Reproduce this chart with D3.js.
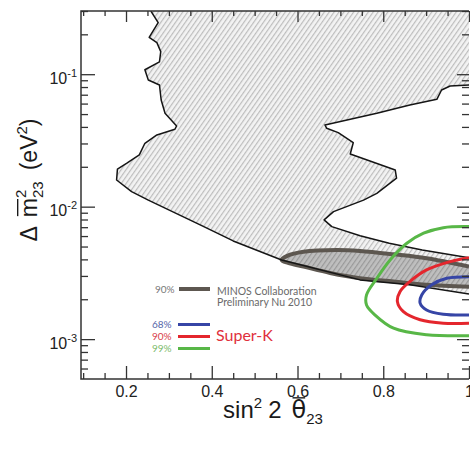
<!DOCTYPE html>
<html>
<head>
<meta charset="utf-8">
<script src="https://cdn.jsdelivr.net/npm/d3@7/dist/d3.min.js"></script>
<style>
  html, body { margin: 0; padding: 0; background: #ffffff; }
  svg { display: block; }
</style>
</head>
<body>
<script>
// ---------------- data ----------------
const xMajorTicks = [0.2, 0.4, 0.6, 0.8, 1.0];
const xTickLabels = ["0.2", "0.4", "0.6", "0.8", "1"];
const xMinorTicks = [0.1, 0.15, 0.25, 0.3, 0.35, 0.45, 0.5, 0.55, 0.65, 0.7, 0.75, 0.85, 0.9, 0.95];
const yMajorTicks = [1e-3, 1e-2, 1e-1];
const yTickExponents = ["-3", "-2", "-1"];
const yMinorTicks = [6e-4, 7e-4, 8e-4, 9e-4,
  2e-3, 3e-3, 4e-3, 5e-3, 6e-3, 7e-3, 8e-3, 9e-3,
  2e-2, 3e-2, 4e-2, 5e-2, 6e-2, 7e-2, 8e-2, 9e-2, 2e-1, 3e-1];

// hatched region boundary [sin^2 2theta, dm^2]
const hatchedLeftEdge = [
  [0.258, 0.300], [0.275, 0.245], [0.254, 0.190], [0.272, 0.173], [0.281, 0.148],
  [0.278, 0.124], [0.244, 0.108], [0.252, 0.0904], [0.278, 0.0829], [0.282, 0.0639],
  [0.291, 0.0507], [0.318, 0.0407], [0.314, 0.0384], [0.272, 0.0348], [0.244, 0.0301],
  [0.231, 0.0246], [0.202, 0.0213], [0.180, 0.0192], [0.178, 0.0159], [0.213, 0.0130],
  [0.252, 0.0112], [0.373, 0.00728], [0.450, 0.00551], [0.563, 0.00396],
  [0.746, 0.00280], [0.862, 0.00257], [1.0, 0.00219]
];
const hatchedRightEdge = [
  [1.0, 0.00412], [0.891, 0.00471], [0.814, 0.00529], [0.746, 0.00604], [0.680, 0.00707],
  [0.662, 0.00794], [0.684, 0.00917], [0.754, 0.0112], [0.785, 0.0126], [0.831, 0.0164],
  [0.828, 0.0189], [0.723, 0.0250], [0.730, 0.0304], [0.695, 0.0362], [0.668, 0.0391],
  [0.664, 0.0414], [0.785, 0.0507], [0.862, 0.0586], [0.925, 0.0646], [0.936, 0.0760],
  [0.956, 0.0815], [1.0, 0.0829]
];
const hatchedTopRight = [1.0, 0.300];

// MINOS 90% contour
const minos90 = [
  [1.0, 0.00353], [0.901, 0.00408], [0.824, 0.00437], [0.746, 0.00463], [0.692, 0.00471],
  [0.614, 0.00457], [0.576, 0.00425], [0.563, 0.00396], [0.578, 0.00376], [0.614, 0.00353],
  [0.676, 0.00316], [0.746, 0.00288], [0.824, 0.00272], [0.901, 0.00257], [1.0, 0.00248]
];

// Super-K contours
const superK99 = [
  [1.0, 0.00707], [0.940, 0.00694], [0.894, 0.00630], [0.855, 0.00529], [0.816, 0.00396],
  [0.785, 0.00288], [0.761, 0.00216], [0.761, 0.00181], [0.781, 0.00152], [0.824, 0.00121],
  [0.901, 0.00108], [1.0, 0.00106]
];
const superK90 = [
  [1.0, 0.00412], [0.956, 0.00385], [0.901, 0.00333], [0.862, 0.00272], [0.839, 0.00228],
  [0.833, 0.00192], [0.847, 0.00161], [0.886, 0.00140], [0.940, 0.00132], [1.0, 0.00132]
];
const superK68 = [
  [1.0, 0.00296], [0.948, 0.00288], [0.913, 0.00257], [0.890, 0.00216], [0.886, 0.00187],
  [0.901, 0.00166], [0.940, 0.00154], [1.0, 0.00152]
];

const superKLevels = ["68%", "90%", "99%"];
const superKColors = ["#3645a6", "#e4262d", "#58b747"];
const superKTextColors = ["#5565a8", "#d8404a", "#7cbb6a"];

// ---------------- layout ----------------
const W = 470, H = 453;
const L = 81, R = 469, T = 11, B = 379;
const FONT = "'Liberation Sans', Arial, Helvetica, sans-serif";
const LFONT = "Lato, 'Open Sans', sans-serif";

const svg = d3.select("body").append("svg").attr("width", W).attr("height", H);

const x = d3.scaleLinear().domain([0.095, 1.0]).range([L, R]);
const y = d3.scaleLog().domain([5e-4, 0.3]).range([B, T]);

const defs = svg.append("defs");
defs.append("clipPath").attr("id", "plotclip")
  .append("rect").attr("x", L).attr("y", T).attr("width", R - L).attr("height", B - T);

const hp = defs.append("pattern").attr("id", "hatch").attr("patternUnits", "userSpaceOnUse")
  .attr("width", 4).attr("height", 4).attr("patternTransform", "rotate(35)");
hp.append("rect").attr("width", 4).attr("height", 4).attr("fill", "#f3f3f3");
hp.append("line").attr("x1", 0.6).attr("y1", 0).attr("x2", 0.6).attr("y2", 4)
  .attr("stroke", "#bdbdbd").attr("stroke-width", 1.2);

const hp2 = defs.append("pattern").attr("id", "hatch2").attr("patternUnits", "userSpaceOnUse")
  .attr("width", 4).attr("height", 4).attr("patternTransform", "rotate(35)");
hp2.append("rect").attr("width", 4).attr("height", 4).attr("fill", "#bfbfbf");
hp2.append("line").attr("x1", 0.6).attr("y1", 0).attr("x2", 0.6).attr("y2", 4)
  .attr("stroke", "#999999").attr("stroke-width", 1.2);

const plot = svg.append("g").attr("clip-path", "url(#plotclip)");

const lin = d3.line().x(d => x(d[0])).y(d => y(d[1]));
const smooth = d3.line().x(d => x(d[0])).y(d => y(d[1])).curve(d3.curveCatmullRom.alpha(0.5));

// hatched region fill
const hatchPoly = hatchedLeftEdge.concat(hatchedRightEdge, [hatchedTopRight]);
plot.append("path").attr("d", lin(hatchPoly) + "Z").attr("fill", "url(#hatch)").attr("stroke", "none");

// MINOS 90% contour fill
plot.append("path").attr("d", smooth(minos90) + "Z").attr("fill", "url(#hatch2)").attr("stroke", "none");
plot.append("path").attr("d", smooth(minos90)).attr("fill", "none")
  .attr("stroke", "#5d5750").attr("stroke-width", 4);

// hatched outline
plot.append("path").attr("d", lin(hatchedLeftEdge)).attr("fill", "none")
  .attr("stroke", "#151515").attr("stroke-width", 1.5).attr("stroke-linejoin", "round");
plot.append("path").attr("d", lin(hatchedRightEdge)).attr("fill", "none")
  .attr("stroke", "#151515").attr("stroke-width", 1.5).attr("stroke-linejoin", "round");

// Super-K contours
[superK68, superK90, superK99].forEach((c, i) => {
  plot.append("path").attr("d", smooth(c)).attr("fill", "none")
    .attr("stroke", superKColors[i]).attr("stroke-width", 3);
});

// ---------------- axes ----------------
const axisColor = "#333333";
function styleAxis(g) {
  g.select(".domain").remove();
  g.selectAll(".tick line").attr("stroke", axisColor).attr("stroke-width", 1.3);
}
svg.append("g").attr("transform", `translate(0,${B})`)
  .call(d3.axisBottom(x).tickValues(xMinorTicks).tickSize(-6).tickFormat(""))
  .call(styleAxis);
const xb = svg.append("g").attr("transform", `translate(0,${B})`)
  .call(d3.axisBottom(x).tickValues(xMajorTicks).tickSize(-13).tickPadding(7)
    .tickFormat((d, i) => xTickLabels[i]))
  .call(styleAxis);
xb.selectAll(".tick text").attr("font-family", FONT).attr("font-size", 16).attr("fill", "#222");

svg.append("g").attr("transform", `translate(0,${T})`)
  .call(d3.axisTop(x).tickValues(xMinorTicks).tickSize(-5).tickFormat(""))
  .call(styleAxis);
svg.append("g").attr("transform", `translate(0,${T})`)
  .call(d3.axisTop(x).tickValues(xMajorTicks).tickSize(-11).tickFormat(""))
  .call(styleAxis);

svg.append("g").attr("transform", `translate(${L},0)`)
  .call(d3.axisLeft(y).tickValues(yMinorTicks).tickSize(-7).tickFormat(""))
  .call(styleAxis);
const yl = svg.append("g").attr("transform", `translate(${L},0)`)
  .call(d3.axisLeft(y).tickValues(yMajorTicks).tickSize(-14).tickFormat(""))
  .call(styleAxis);
yl.selectAll(".tick").each(function(d, i) {
  const t = d3.select(this).append("text")
    .attr("x", -4).attr("y", 9).attr("text-anchor", "end")
    .attr("font-family", FONT).attr("fill", "#222");
  t.append("tspan").attr("font-size", 16).text("10");
  t.append("tspan").attr("font-size", 11).attr("dy", -7).text(yTickExponents[i]);
});

svg.append("g").attr("transform", `translate(${R},0)`)
  .call(d3.axisRight(y).tickValues(yMinorTicks).tickSize(-7).tickFormat(""))
  .call(styleAxis);
svg.append("g").attr("transform", `translate(${R},0)`)
  .call(d3.axisRight(y).tickValues(yMajorTicks).tickSize(-12).tickFormat(""))
  .call(styleAxis);

// frame (left, top, bottom)
svg.append("path").attr("d", `M${R},${T}H${L}V${B}H${R}`)
  .attr("fill", "none").attr("stroke", axisColor).attr("stroke-width", 1.5);

// ---------------- rich-text axis titles ----------------
function richText(g, pieces, family) {
  let cx = 0;
  const tmp = [];
  pieces.forEach(p => {
    if (p.gap) { cx += p.gap; return; }
    const startX = p.stack ? tmp[tmp.length - 1].x : cx;
    const t = g.append("text").attr("x", startX).attr("y", p.dy || 0)
      .attr("font-family", p.family || family).attr("font-size", p.size)
      .attr("fill", "#1a1a1a").text(p.t);
    const w = t.node().getComputedTextLength();
    if (p.overline) {
      g.append("line").attr("x1", startX + 1).attr("x2", startX + w - 1)
        .attr("y1", -p.size * 0.84).attr("y2", -p.size * 0.84)
        .attr("stroke", "#1a1a1a").attr("stroke-width", 1.4);
    }
    if (p.stack) {
      cx = Math.max(cx, startX + w);
    } else {
      cx = startX + w;
    }
    tmp.push({ x: startX, w });
  });
  return cx;
}

// x title
const xt = svg.append("g");
const xtw = richText(xt, [
  { t: "sin", size: 24 },
  { t: "2", size: 15, dy: -10 },
  { gap: 6 },
  { t: "2", size: 24 },
  { gap: 10 },
  { t: "θ", size: 24, overline: true, family: "'DejaVu Sans', sans-serif" },
  { t: "23", size: 15, dy: 6 }
], FONT);
xt.attr("transform", `translate(${273 - xtw / 2},418)`);

// y title
const ytOuter = svg.append("g");
const yt = ytOuter.append("g");
const ytw = richText(yt, [
  { t: "Δ", size: 23 },
  { gap: 9 },
  { t: "m", size: 23, overline: true },
  { t: "2", size: 15, dy: -11 },
  { t: "23", size: 15, dy: 6, stack: true },
  { gap: 11 },
  { t: "(eV", size: 23 },
  { t: "2", size: 15, dy: -10 },
  { t: ")", size: 23 }
], FONT);
yt.attr("transform", `translate(${-ytw / 2},0)`);
ytOuter.attr("transform", "translate(37,180) rotate(-90)");

// ---------------- legend ----------------
const lg = svg.append("g");
lg.append("text").attr("x", 155).attr("y", 293).attr("font-family", LFONT).attr("font-size", 10)
  .attr("fill", "#777").text("90%");
lg.append("line").attr("x1", 179).attr("x2", 210).attr("y1", 289).attr("y2", 289)
  .attr("stroke", "#5d5750").attr("stroke-width", 4);
lg.append("text").attr("x", 217).attr("y", 295).attr("font-family", LFONT).attr("font-size", 10.5)
  .attr("fill", "#6a6a6a").text("MINOS Collaboration");
lg.append("text").attr("x", 217).attr("y", 306).attr("font-family", LFONT).attr("font-size", 10.5)
  .attr("fill", "#6a6a6a").text("Preliminary Nu 2010");

const skY = [324.5, 336.5, 348.5];
superKLevels.forEach((lab, i) => {
  lg.append("text").attr("x", 152).attr("y", skY[i] + 3.5).attr("font-family", LFONT)
    .attr("font-size", 10).attr("fill", superKTextColors[i]).text(lab);
  lg.append("line").attr("x1", 178).attr("x2", 210).attr("y1", skY[i]).attr("y2", skY[i])
    .attr("stroke", superKColors[i]).attr("stroke-width", 3);
});
lg.append("text").attr("x", 216).attr("y", 341).attr("font-family", LFONT).attr("font-size", 16)
  .attr("fill", "#e0303c").text("Super-K");
</script>
</body>
</html>
